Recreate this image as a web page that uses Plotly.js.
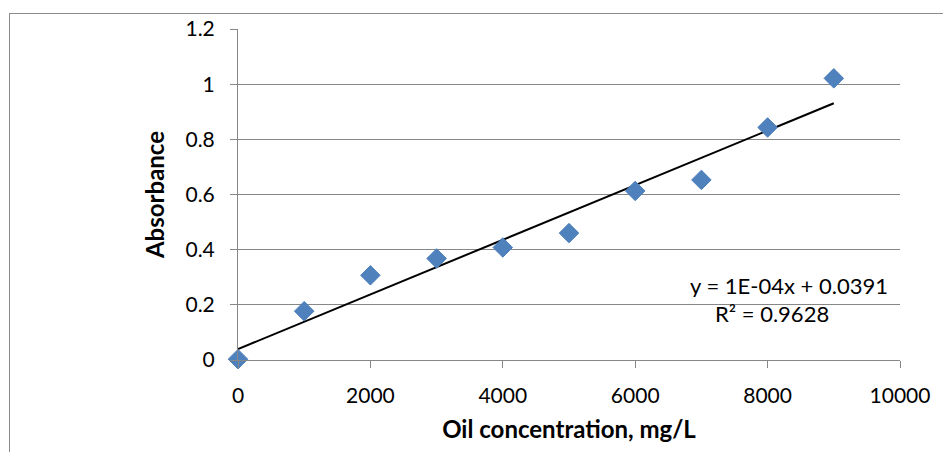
<!DOCTYPE html>
<html>
<head>
<meta charset="utf-8">
<script src="https://cdn.plot.ly/plotly-3.0.1.min.js"></script>
<style>
html,body{margin:0;padding:0;background:#fff;width:943px;height:452px;overflow:hidden;}
#frame{position:absolute;left:9px;top:13px;width:1000px;height:600px;border-left:1px solid #8c8c8c;border-top:1px solid #8c8c8c;}
#chart{position:absolute;left:0;top:0;width:943px;height:452px;}
</style>
</head>
<body>
<div id="frame"></div>
<div id="chart"></div>
<script>
const concentration = [0, 1000, 2000, 3000, 4000, 5000, 6000, 7000, 8000, 9000];
const absorbance = [0.003, 0.177, 0.307, 0.368, 0.408, 0.460, 0.613, 0.653, 0.843, 1.021];
const xTicks = [0, 2000, 4000, 6000, 8000, 10000];
const yTicks = [0, 0.2, 0.4, 0.6, 0.8, 1, 1.2];
const eqText = "y = 1E-04x + 0.0391";
const r2Text = "R² = 0.9628";

// least squares trendline
const n = concentration.length;
const mx = concentration.reduce((a,b)=>a+b,0)/n;
const my = absorbance.reduce((a,b)=>a+b,0)/n;
let sxy=0, sxx=0;
for(let i=0;i<n;i++){sxy+=(concentration[i]-mx)*(absorbance[i]-my);sxx+=(concentration[i]-mx)**2;}
const slope = sxy/sxx, intercept = my - slope*mx;
const tx = [concentration[0], concentration[n-1]];
const ty = tx.map(v=>intercept+slope*v);

const font = "Lato, 'Open Sans', sans-serif";
const data = [
  {x: tx, y: ty, mode:'lines', type:'scatter', line:{color:'#000', width:2}, hoverinfo:'skip', cliponaxis:false},
  {x: concentration, y: absorbance, mode:'markers', type:'scatter',
   marker:{symbol:'diamond', size:15, color:'#4F81BD', line:{color:'#4A7EBB', width:1}}, cliponaxis:false}
];
const layout = {
  width:943, height:452,
  margin:{l:238, r:43, t:29, b:92, pad:0},
  paper_bgcolor:'rgba(0,0,0,0)', plot_bgcolor:'rgba(0,0,0,0)',
  showlegend:false,
  font:{family:font, color:'#000', size:21},
  xaxis:{range:[0,10000], tickvals:xTicks, ticktext:xTicks.map(String), showgrid:false, zeroline:false,
    showline:true, linecolor:'#878787', linewidth:1, ticks:'outside', ticklen:7, tickcolor:'#878787',
    tickfont:{family:font, size:21, color:'#000'}, ticklabelstandoff:10,
    title:{text:'<b>Oil concentration, mg/L</b>', font:{family:font, size:24, color:'#000'}, standoff:14}},
  yaxis:{range:[0,1.2], tickvals:yTicks, ticktext:yTicks.map(String), showgrid:true, gridcolor:'#878787', gridwidth:1,
    zeroline:false, showline:true, linecolor:'#878787', linewidth:1, ticks:'outside', ticklen:7, tickcolor:'#878787',
    tickfont:{family:font, size:21, color:'#000'}, ticklabelstandoff:11,
    title:{text:'<b>Absorbance</b>', font:{family:font, size:24, color:'#000'}, standoff:14}},
  annotations:[
    {xref:'paper', yref:'paper', x:0.985, y:0.228, xanchor:'right', yanchor:'middle', height:24, text:eqText, showarrow:false, font:{family:font, size:22, color:'#000'}},
    {xref:'paper', yref:'paper', x:0.807, y:0.1405, xanchor:'center', yanchor:'middle', height:24, text:r2Text, showarrow:false, font:{family:font, size:22, color:'#000'}}
  ]
};
Plotly.newPlot('chart', data, layout, {displayModeBar:false, staticPlot:true});
</script>
</body>
</html>
